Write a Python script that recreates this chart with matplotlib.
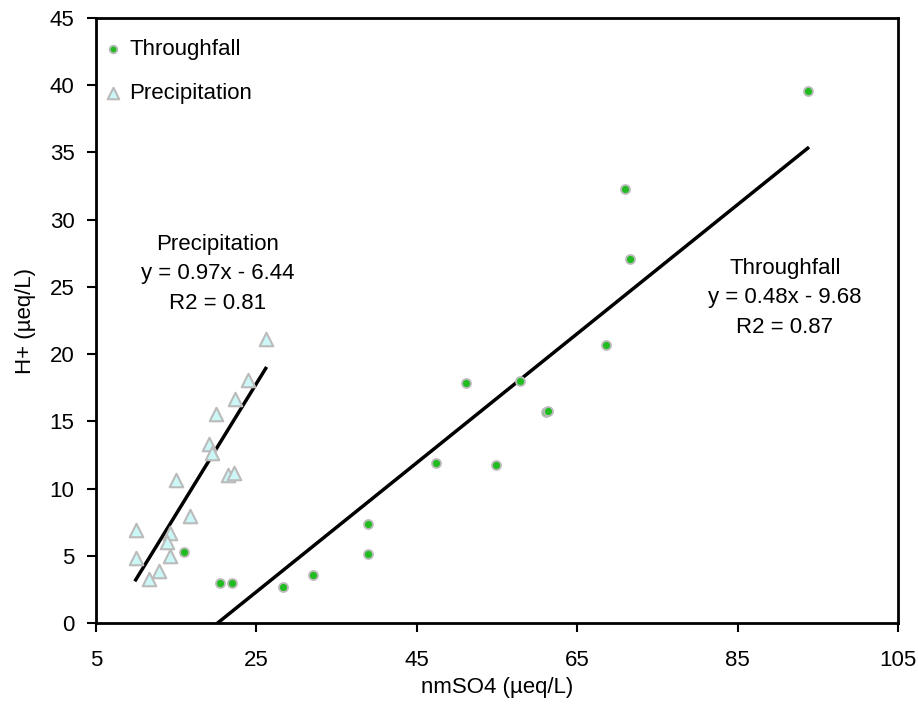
import numpy as np
import matplotlib
matplotlib.use("Agg")
import matplotlib.pyplot as plt

plt.rcParams['font.family'] = ['Liberation Sans', 'DejaVu Sans']

# Throughfall data
tf_x = [15.97, 20.46, 21.92, 28.36, 32.1, 38.88, 38.88, 47.36, 54.84, 51.1,
        57.87, 61.07, 61.32, 68.55, 71.0, 71.55, 93.74]
tf_y = [5.26, 2.98, 2.98, 2.70, 3.6, 5.11, 7.34, 11.93, 11.78, 17.88,
        18.0, 15.68, 15.8, 20.68, 32.3, 27.08, 39.6]

# Precipitation data
pr_x = [26.16, 23.9, 22.37, 19.92, 19.13, 19.46, 21.42, 22.2, 14.98, 16.68,
        9.95, 14.23, 13.9, 9.95, 14.23, 12.9, 11.65]
pr_y = [21.1, 18.08, 16.64, 15.55, 13.32, 12.67, 10.99, 11.14, 10.64, 7.98,
        6.94, 6.67, 6.05, 4.86, 5.0, 3.89, 3.25]

# Trendline coefficients
tf_slope, tf_int, tf_r2 = 0.48, -9.68, 0.87
pr_slope, pr_int, pr_r2 = 0.97, -6.44, 0.81

x_ticks = [5, 25, 45, 65, 85, 105]
y_ticks = [0, 5, 10, 15, 20, 25, 30, 35, 40, 45]

FS = 16

fig = plt.figure(figsize=(9.18, 7.05), dpi=100)
ax = fig.add_axes([96/918, 1-623/705, 802/918, 605/705])

ax.scatter(tf_x, tf_y, s=42, marker='o', facecolor='#22bb22', edgecolor='#bbbbbb',
           linewidth=1.3, zorder=3, label='Throughfall')
ax.scatter(pr_x, pr_y, s=95, marker='^', facecolor='#ccf7f7', edgecolor='#bbbbbb',
           linewidth=1.5, zorder=3, label='Precipitation')

# Trendlines
x0 = max(min(tf_x), -tf_int / tf_slope)
x1 = max(tf_x)
ax.plot([x0, x1], [tf_slope*x0 + tf_int, tf_slope*x1 + tf_int], color='black', lw=2.5, zorder=2)
p0, p1 = min(pr_x), max(pr_x)
ax.plot([p0, p1], [pr_slope*p0 + pr_int, pr_slope*p1 + pr_int], color='black', lw=2.5, zorder=2)

ax.text(20.2, 25.97,
        f"Precipitation\ny = {pr_slope:.2f}x - {abs(pr_int):.2f}\nR2 = {pr_r2:.2f}",
        ha='center', va='center', fontsize=FS, linespacing=1.55)
ax.text(90.9, 24.18,
        f"Throughfall\ny = {tf_slope:.2f}x - {abs(tf_int):.2f}\nR2 = {tf_r2:.2f}",
        ha='center', va='center', fontsize=FS, linespacing=1.55)

ax.set_xlim(5, 105)
ax.set_ylim(0, 45)
ax.set_xticks(x_ticks)
ax.set_yticks(y_ticks)
ax.tick_params(direction='out', length=6.5, width=1.5, labelsize=FS)
ax.tick_params(axis='y', pad=9)
ax.tick_params(axis='x', pad=13)
for sp in ax.spines.values():
    sp.set_linewidth(2)
ax.set_xlabel('nmSO4 (µeq/L)', fontsize=FS, labelpad=4)
ax.set_ylabel('H+ (µeq/L)', fontsize=FS, labelpad=10)

leg = ax.legend(loc='upper left', bbox_to_anchor=(0.01, 0.966), frameon=False,
                fontsize=FS, handletextpad=0.35, borderaxespad=0, borderpad=0,
                labelspacing=1.05, handlelength=0.8, markerscale=0.85)

fig.savefig('out.png', dpi=100)
